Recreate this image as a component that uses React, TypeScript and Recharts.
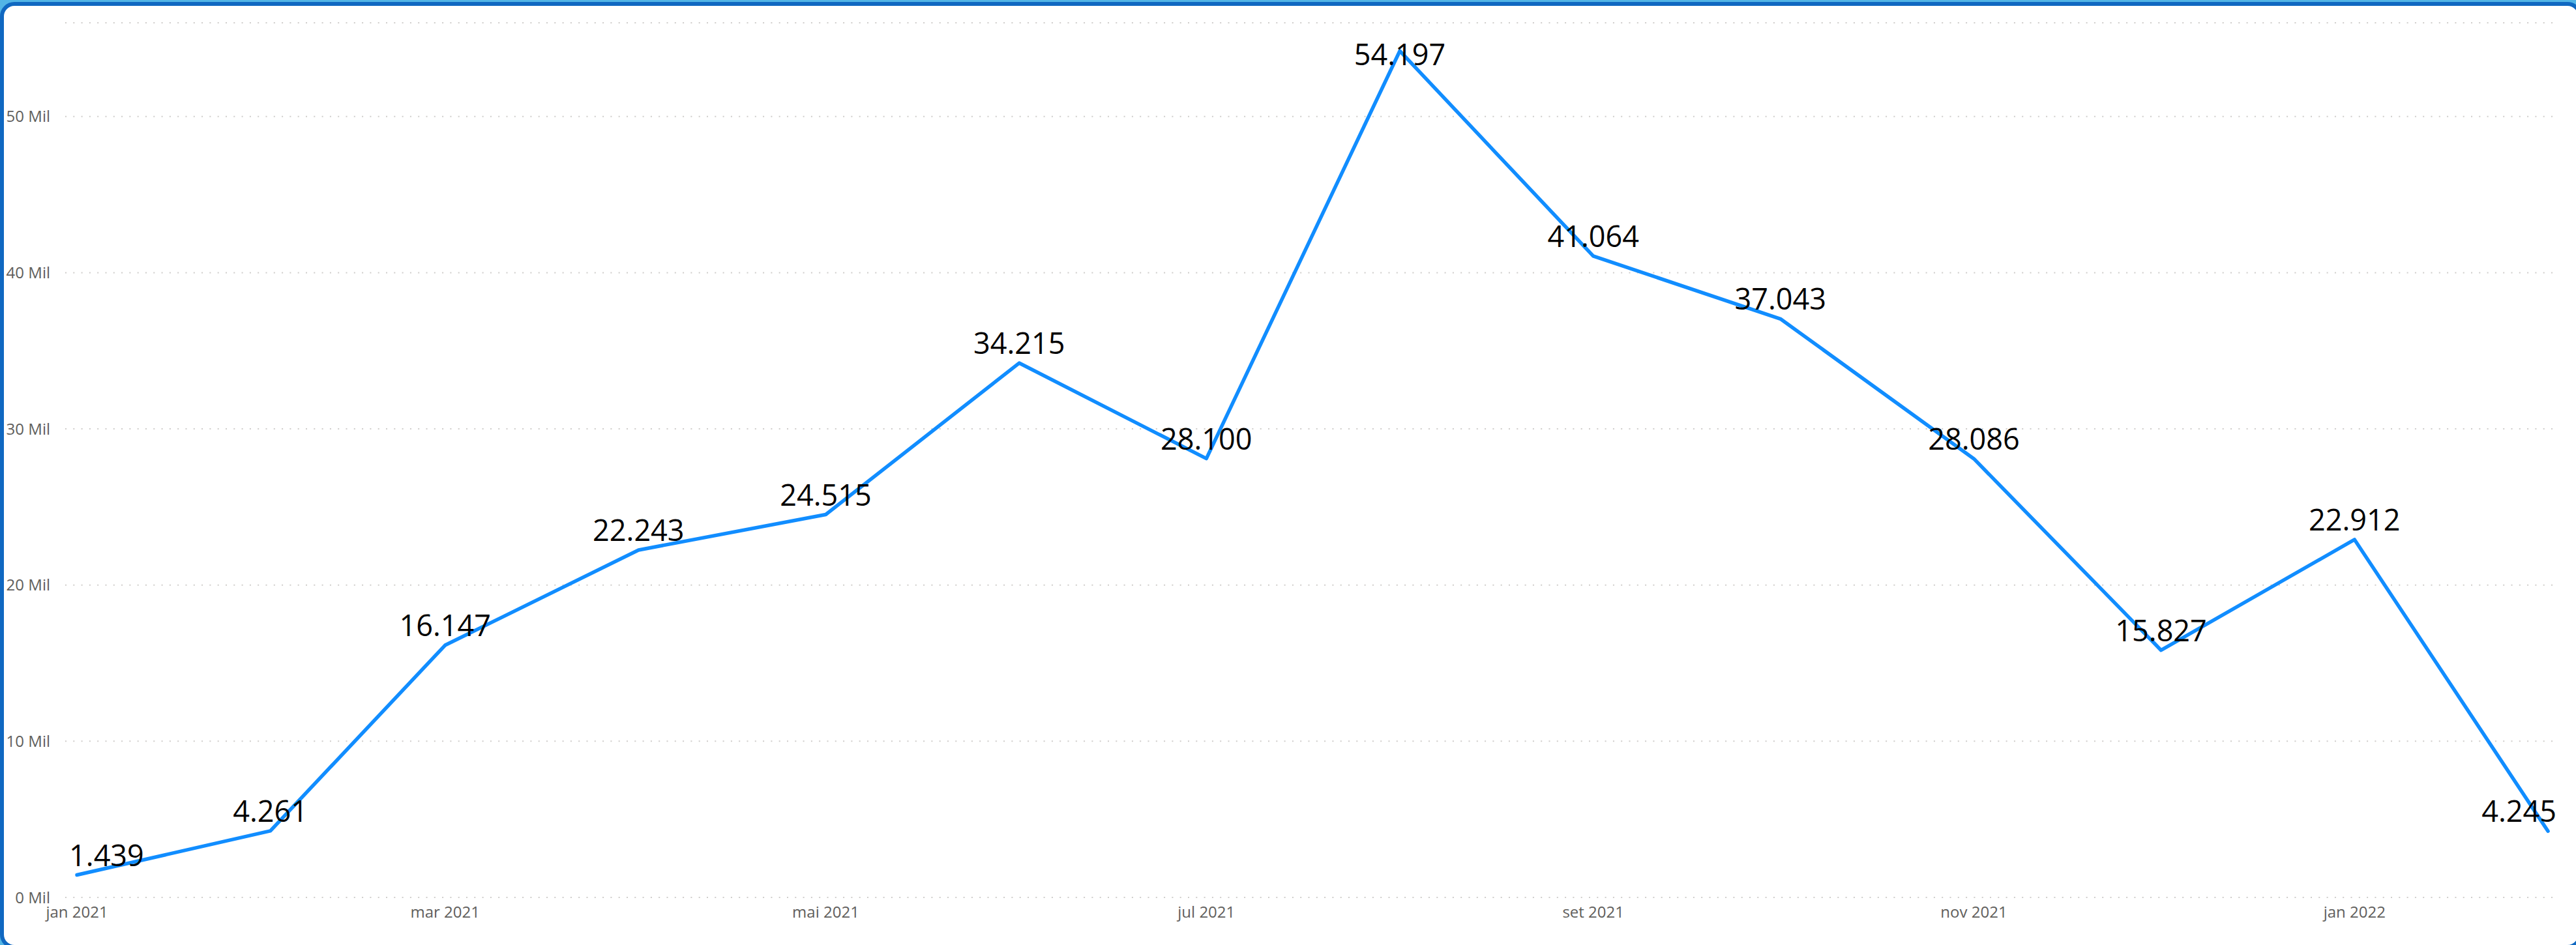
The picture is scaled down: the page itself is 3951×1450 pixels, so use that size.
import React from 'react';
import { LineChart, Line, XAxis, YAxis, CartesianGrid, LabelList } from 'recharts';

// monthly totals, jan 2021 .. fev 2022
const months = [
  '2021-01', '2021-02', '2021-03', '2021-04', '2021-05', '2021-06', '2021-07',
  '2021-08', '2021-09', '2021-10', '2021-11', '2021-12', '2022-01', '2022-02',
];
const sales = [1439, 4261, 16147, 22243, 24515, 34215, 28100, 54197, 41064, 37043, 28086, 15827, 22912, 4245];

const tickMonths = ['2021-01', '2021-03', '2021-05', '2021-07', '2021-09', '2021-11', '2022-01'];
const tickLabels = ['jan 2021', 'mar 2021', 'mai 2021', 'jul 2021', 'set 2021', 'nov 2021', 'jan 2022'];
const yTicks = [0, 10000, 20000, 30000, 40000, 50000];

const W = 3951;
const H = 1450;
const FONT = "'Segoe UI', 'Open Sans', sans-serif";
const PLOT_LEFT = 100;
const PLOT_RIGHT = 3918;
const MARGIN_TOP = 35;
const LABEL_SIZE = 45;

const toTime = (m: string) => {
  const [y, mo] = m.split('-').map(Number);
  return Date.UTC(y, mo - 1, 1);
};

const data = months.map((m, i) => ({ t: toTime(m), value: sales[i] }));
const tickTimes = tickMonths.map(toTime);

const fmtThousands = (v: number) => String(v).replace(/\B(?=(\d{3})+(?!\d))/g, '.');

const textWidth = (s: string) =>
  s.split('').reduce((w, ch) => w + (ch === '.' ? 0.266 : 0.572), 0) * LABEL_SIZE;

// data label: above the point, kept inside the plot box
const renderLabel = (props: any) => {
  const { x, y, value } = props;
  const text = fmtThousands(Number(value));
  const half = textWidth(text) / 2;
  const cx = Math.min(Math.max(x, PLOT_LEFT + 6 + half), PLOT_RIGHT + 3 - half);
  const baseline = Math.max(y - 14, MARGIN_TOP + 65);
  return (
    <text x={cx} y={baseline} textAnchor="middle" fill="#000" fontSize={LABEL_SIZE} fontFamily={FONT}>
      {text}
    </text>
  );
};

const App: React.FC = () => {
  return (
    <div style={{ position: 'absolute', left: 0, top: 0, width: W, height: H, overflow: 'hidden', background: '#52B5E6' }}>
      <div
        style={{
          position: 'absolute',
          left: 0,
          top: 3,
          width: 3960,
          height: 1453,
          boxSizing: 'border-box',
          border: '6px solid #1068C1',
          borderRadius: 22,
          background: '#fff',
        }}
      />
      <div style={{ position: 'absolute', left: 0, top: 0 }}>
        <LineChart width={W} height={H} data={data} margin={{ top: MARGIN_TOP, right: W - PLOT_RIGHT, bottom: 33, left: 0 }}>
          <CartesianGrid vertical={false} stroke="#CFCDCB" strokeDasharray="2 10.3" strokeWidth={2} />
          <XAxis
            dataKey="t"
            type="number"
            domain={[data[0].t, data[data.length - 1].t]}
            ticks={tickTimes}
            interval={0}
            tickFormatter={(v: number) => tickLabels[tickTimes.indexOf(v)] ?? ''}
            padding={{ left: 18, right: 10 }}
            axisLine={false}
            tickLine={false}
            tickSize={0}
            tickMargin={14}
            height={40}
            tick={{ fill: '#605E5C', fontSize: 24, fontFamily: FONT }}
          />
          <YAxis
            domain={[0, 56000]}
            ticks={yTicks}
            interval={0}
            tickFormatter={(v: number) => `${v / 1000} Mil`}
            width={PLOT_LEFT}
            axisLine={false}
            tickLine={false}
            tickSize={0}
            tickMargin={23}
            tick={{ fill: '#605E5C', fontSize: 24, fontFamily: FONT }}
          />
          <Line
            type="linear"
            dataKey="value"
            stroke="#118DFF"
            strokeWidth={5.5}
            strokeLinecap="round"
            strokeLinejoin="round"
            dot={false}
            activeDot={false}
            isAnimationActive={false}
          >
            <LabelList dataKey="value" content={renderLabel} />
          </Line>
        </LineChart>
      </div>
    </div>
  );
};

export default App;
